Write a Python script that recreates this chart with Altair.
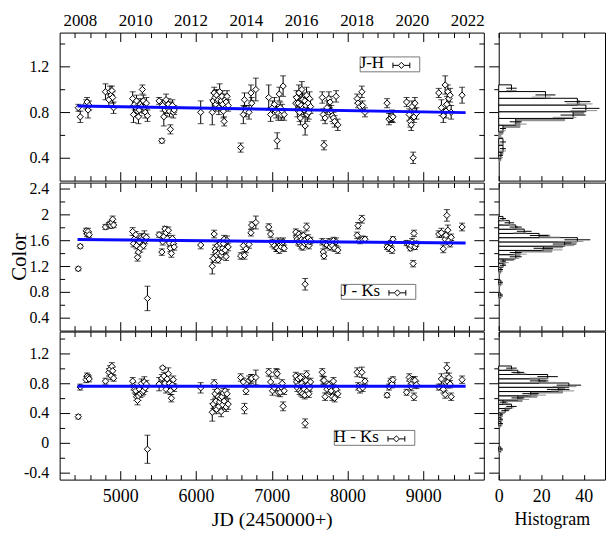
import altair as alt
import pandas as pd

FONT = "Liberation Serif"

# ---------------- observation epochs (JD - 2450000) ----------------
JD = [4446, 4472,
      4550, 4562, 4575, 4590,
      4805, 4850, 4865, 4878, 4890, 4900, 4912,
      5164, 5175, 5190, 5205, 5215, 5228, 5240, 5252, 5265, 5280, 5292, 5305, 5318, 5330, 5345, 5359,
      5513, 5549, 5560, 5575, 5590, 5605, 5620, 5635, 5650, 5662, 5675, 5688, 5700, 5712,
      6062,
      6215, 6228, 6240, 6252, 6262, 6272, 6282, 6292, 6302, 6312, 6322, 6332, 6342, 6352, 6362, 6372, 6385, 6398, 6410, 6425,
      6590, 6625, 6640, 6660, 6700, 6725, 6735, 6790,
      6960, 6985, 7010, 7035, 7060, 7072, 7085, 7100, 7112, 7125, 7138, 7150, 7164,
      7318, 7328, 7338, 7348, 7358, 7368, 7378, 7388, 7398, 7408, 7418, 7428, 7436, 7441, 7450, 7460, 7470, 7480, 7490, 7500, 7512,
      7667, 7680, 7690, 7705, 7730, 7755, 7770, 7785, 7800, 7815, 7830, 7850, 7872,
      8128, 8140, 8165, 8190, 8200, 8231,
      8523, 8548, 8572, 8588, 8600,
      8780, 8815, 8830, 8842, 8852, 8867, 8878, 8890, 8910,
      9205, 9240, 9265, 9290, 9300, 9312, 9325, 9340, 9355, 9369,
      9513]

JH = [0.84, 0.76,
      0.87, 0.89, 0.82, 0.86,
      0.98, 0.91, 0.98, 0.95, 0.99, 0.93, 0.84,
      0.92, 0.78, 0.87, 0.84, 0.90, 0.81, 0.76, 0.82, 0.87, 0.85, 1.00, 0.90, 0.84, 0.80, 0.88, 0.77,
      0.90, 0.55, 0.86, 0.76, 0.82, 0.91, 0.84, 0.87, 0.81, 0.65, 0.84, 0.86, 0.80, 0.82,
      0.80,
      0.80, 0.90, 0.97, 0.93, 0.87, 0.95, 0.90, 0.91, 0.84, 0.98, 0.93, 0.90, 0.94, 0.87, 0.81, 0.72, 0.91, 0.89, 0.94, 0.86,
      0.49, 0.78, 0.91, 0.81, 0.80, 0.97, 0.88, 1.00,
      0.93, 0.78, 0.84, 0.87, 0.81, 0.55, 0.79, 0.96, 0.84, 0.78, 0.81, 1.03, 0.78,
      0.88, 0.93, 0.82, 0.88, 0.97, 0.80, 0.75, 0.86, 1.00, 0.91, 0.84, 0.82, 0.90, 0.68, 0.86, 0.95, 0.78, 0.88, 0.80, 0.92, 0.85,
      0.93, 0.78, 0.51, 0.75, 0.84, 0.92, 0.89, 0.81, 0.77, 0.75, 0.72, 0.94, 0.69,
      0.92, 0.88, 0.85, 0.98, 0.86, 0.80,
      0.88, 0.74, 0.75, 0.77, 0.76,
      0.89, 0.78, 0.72, 0.69, 0.85, 0.40, 0.76, 0.88, 0.79,
      0.97, 0.84, 0.77, 1.04, 0.81, 0.87, 0.98, 0.92, 0.95, 0.80,
      0.95]
JH_ERR = [0.03, 0.05,
          0.04, 0.04, 0.07, 0.04,
          0.07, 0.05, 0.05, 0.04, 0.04, 0.05, 0.05,
          0.06, 0.07, 0.05, 0.05, 0.05, 0.05, 0.06, 0.05, 0.05, 0.05, 0.04, 0.05, 0.05, 0.05, 0.05, 0.05,
          0.03, 0.02, 0.05, 0.08, 0.05, 0.05, 0.05, 0.05, 0.05, 0.04, 0.05, 0.05, 0.05, 0.04,
          0.10,
          0.11, 0.07, 0.05, 0.06, 0.06, 0.05, 0.06, 0.05, 0.06, 0.07, 0.05, 0.06, 0.05, 0.06, 0.06, 0.04, 0.05, 0.06, 0.05, 0.05,
          0.04, 0.08, 0.06, 0.05, 0.06, 0.07, 0.05, 0.10,
          0.11, 0.06, 0.06, 0.06, 0.06, 0.07, 0.06, 0.06, 0.05, 0.05, 0.06, 0.09, 0.05,
          0.06, 0.06, 0.06, 0.06, 0.07, 0.08, 0.06, 0.06, 0.07, 0.06, 0.06, 0.06, 0.06, 0.08, 0.06, 0.07, 0.06, 0.06, 0.06, 0.06, 0.06,
          0.05, 0.05, 0.04, 0.05, 0.06, 0.06, 0.05, 0.05, 0.05, 0.05, 0.05, 0.05, 0.05,
          0.04, 0.04, 0.04, 0.05, 0.04, 0.04,
          0.04, 0.05, 0.04, 0.05, 0.05,
          0.04, 0.05, 0.05, 0.05, 0.05, 0.05, 0.05, 0.05, 0.05,
          0.04, 0.07, 0.06, 0.08, 0.06, 0.07, 0.06, 0.06, 0.06, 0.06,
          0.07]

JK = [1.16, 1.51,
      1.75, 1.70, 1.74, 1.69,
      1.81, 1.84, 1.86, 1.83, 1.88, 1.93, 1.84,
      1.74, 1.55, 1.63, 1.69, 1.52, 1.34, 1.42, 1.58, 1.48, 1.65, 1.62, 1.52, 1.67, 1.60, 1.65, 0.70,
      1.69, 1.42, 1.58, 1.66, 1.78, 1.72, 1.63, 1.76, 1.56, 1.48, 1.40, 1.63, 1.55, 1.50,
      1.53,
      1.20, 1.32, 1.70, 1.47, 1.42, 1.37, 1.52, 1.30, 1.40, 1.48, 1.55, 1.37, 1.42, 1.48, 1.55, 1.62, 1.45, 1.35, 1.60, 1.50,
      1.36, 1.52, 1.37, 1.47, 1.54, 1.72, 1.84, 1.88,
      1.81, 1.70, 1.56, 1.52, 1.48, 1.48, 1.58, 1.45, 1.53, 1.50, 1.56, 1.58, 1.48,
      1.73, 1.65, 1.62, 1.58, 1.70, 1.56, 1.66, 1.52, 1.62, 1.50, 1.68, 1.60, 1.55, 0.92, 1.62, 1.81, 1.56, 1.64, 1.52, 1.58, 1.60,
      1.58, 1.42, 1.36, 1.55, 1.53, 1.58, 1.50, 1.55, 1.52, 1.60, 1.48, 1.58, 1.45,
      1.68, 1.83, 1.60, 1.93, 1.62, 1.62,
      1.50, 1.48, 1.56, 1.45, 1.62,
      1.56, 1.53, 1.48, 1.52, 1.58, 1.24, 1.71, 1.50, 1.55,
      1.70, 1.72, 1.47, 1.62, 1.68, 1.99, 1.76, 1.60, 1.55, 1.65,
      1.81]
JK_ERR = [0.03, 0.03,
          0.04, 0.04, 0.05, 0.04,
          0.04, 0.04, 0.04, 0.04, 0.04, 0.05, 0.04,
          0.06, 0.05, 0.05, 0.05, 0.05, 0.06, 0.06, 0.05, 0.06, 0.06, 0.05, 0.05, 0.08, 0.05, 0.05, 0.19,
          0.04, 0.05, 0.05, 0.05, 0.04, 0.05, 0.05, 0.05, 0.05, 0.05, 0.06, 0.05, 0.05, 0.05,
          0.06,
          0.12, 0.06, 0.06, 0.06, 0.06, 0.06, 0.06, 0.05, 0.06, 0.06, 0.06, 0.06, 0.06, 0.06, 0.06, 0.06, 0.06, 0.06, 0.07, 0.06,
          0.05, 0.06, 0.06, 0.06, 0.06, 0.05, 0.05, 0.10,
          0.05, 0.05, 0.06, 0.05, 0.05, 0.05, 0.06, 0.05, 0.05, 0.05, 0.06, 0.06, 0.05,
          0.05, 0.05, 0.05, 0.05, 0.05, 0.05, 0.05, 0.05, 0.05, 0.05, 0.05, 0.05, 0.05, 0.09, 0.05, 0.06, 0.05, 0.05, 0.05, 0.05, 0.05,
          0.05, 0.05, 0.05, 0.05, 0.05, 0.05, 0.05, 0.05, 0.05, 0.05, 0.05, 0.06, 0.05,
          0.05, 0.05, 0.05, 0.06, 0.05, 0.04,
          0.04, 0.05, 0.04, 0.05, 0.04,
          0.04, 0.04, 0.04, 0.04, 0.05, 0.05, 0.05, 0.04, 0.04,
          0.05, 0.07, 0.06, 0.05, 0.06, 0.09, 0.08, 0.06, 0.05, 0.05,
          0.06]

HK = [0.35, 0.75,
      0.85, 0.90, 0.88, 0.86,
      0.83, 0.95, 0.99, 0.90, 1.03, 0.97, 0.87,
      0.83, 0.76, 0.72, 0.70, 0.62, 0.57, 0.63, 0.72, 0.66, 0.80, 0.68, 0.70, 0.82, 0.74, 0.79, -0.09,
      0.79, 0.87, 1.01, 0.90, 0.80, 0.72, 0.86, 0.93, 0.80, 0.70, 0.60, 0.78, 0.85, 0.74,
      0.74,
      0.41, 0.52, 0.80, 0.66, 0.56, 0.45, 0.70, 0.62, 0.49, 0.55, 0.60, 0.42, 0.62, 0.51, 0.67, 0.56, 0.70, 0.48, 0.66, 0.52,
      0.88, 0.82, 0.46, 0.70, 0.84, 0.86, 0.87, 0.88,
      0.95, 0.82, 0.70, 0.74, 0.95, 0.93, 0.68, 0.72, 0.68, 0.75, 0.80, 0.49, 0.70,
      0.90, 0.82, 0.74, 0.86, 0.78, 0.70, 0.88, 0.68, 0.80, 0.66, 0.76, 0.72, 0.64, 0.26, 0.84, 0.92, 0.70, 0.78, 0.66, 0.74, 0.82,
      0.95, 0.84, 0.84, 0.62, 0.72, 0.78, 0.74, 0.70, 0.62, 0.83, 0.60, 0.72, 0.66,
      0.95, 0.76, 0.72, 0.95, 0.74, 0.83,
      0.64, 0.75, 0.83, 0.79, 0.85,
      0.68, 0.88, 0.84, 0.75, 0.80, 0.84, 0.62, 0.84, 0.78,
      0.75, 0.86, 0.72, 0.65, 0.81, 1.01, 0.82, 0.88, 0.79, 0.62,
      0.85]
HK_ERR = [0.03, 0.04,
          0.04, 0.04, 0.04, 0.04,
          0.04, 0.05, 0.05, 0.05, 0.05, 0.05, 0.04,
          0.05, 0.05, 0.05, 0.05, 0.05, 0.06, 0.06, 0.05, 0.05, 0.06, 0.05, 0.05, 0.07, 0.05, 0.05, 0.19,
          0.09, 0.05, 0.02, 0.05, 0.05, 0.05, 0.05, 0.08, 0.05, 0.05, 0.05, 0.05, 0.05, 0.05,
          0.07,
          0.12, 0.06, 0.05, 0.06, 0.06, 0.06, 0.06, 0.05, 0.06, 0.06, 0.06, 0.07, 0.06, 0.06, 0.06, 0.06, 0.06, 0.06, 0.06, 0.07,
          0.05, 0.05, 0.07, 0.05, 0.06, 0.06, 0.05, 0.10,
          0.05, 0.07, 0.06, 0.05, 0.05, 0.06, 0.05, 0.05, 0.06, 0.05, 0.05, 0.06, 0.05,
          0.05, 0.05, 0.05, 0.05, 0.05, 0.05, 0.05, 0.05, 0.05, 0.05, 0.05, 0.05, 0.05, 0.06, 0.05, 0.05, 0.05, 0.05, 0.05, 0.05, 0.05,
          0.05, 0.05, 0.05, 0.05, 0.05, 0.05, 0.05, 0.05, 0.05, 0.05, 0.05, 0.05, 0.05,
          0.06, 0.05, 0.05, 0.07, 0.05, 0.04,
          0.03, 0.04, 0.04, 0.05, 0.04,
          0.04, 0.05, 0.05, 0.05, 0.05, 0.05, 0.05, 0.05, 0.05,
          0.04, 0.07, 0.05, 0.05, 0.06, 0.07, 0.08, 0.06, 0.05, 0.05,
          0.05]

for arr in (JH, JH_ERR, JK, JK_ERR, HK, HK_ERR):
    assert len(arr) == len(JD), len(arr)

# linear fits (end points)
FIT_JD = [4436, 9560]
FIT_JH = [0.855, 0.797]
FIT_JK = [1.615, 1.560]
FIT_HK = [0.760, 0.760]

# axes
X_DOMAIN = [4200, 9800]
X_TICKS = [4400, 4600, 4800, 5000, 5200, 5400, 5600, 5800, 6000, 6200, 6400, 6600, 6800,
           7000, 7200, 7400, 7600, 7800, 8000, 8200, 8400, 8600, 8800, 9000, 9200, 9400, 9600]
YEARS = ["2008", "2010", "2012", "2014", "2016", "2018", "2020", "2022"]
YEAR_JD = [4466.5, 5197.5, 5927.5, 6658.5, 7388.5, 8119.5, 8849.5, 9580.5]

Y1_DOMAIN = [0.2, 1.5]
Y1_TICKS = [0.4, 0.6, 0.8, 1.0, 1.2, 1.4]
Y2_DOMAIN = [0.2, 2.5]
Y2_TICKS = [0.4, 0.6, 0.8, 1.0, 1.2, 1.4, 1.6, 1.8, 2.0, 2.2, 2.4]
Y3_DOMAIN = [-0.5, 1.5]
Y3_TICKS = [-0.4, -0.2, 0.0, 0.2, 0.4, 0.6, 0.8, 1.0, 1.2, 1.4]

H_DOMAIN = [0, 50]
H_TICKS = [0, 10, 20, 30, 40]

# histograms (bin edges, counts)
H1_EDGES = [0.392, 0.451, 0.510, 0.569, 0.628, 0.687, 0.746, 0.805, 0.864, 0.923, 0.982, 1.041]
H1_COUNTS = [1, 2, 2, 0, 2, 8, 35, 41, 37, 22, 6]
G1_EDGES = [0.372, 0.431, 0.490, 0.549, 0.608, 0.667, 0.726, 0.785, 0.844, 0.903, 0.962, 1.021]
G1_COUNTS = [1, 2, 1, 1, 2, 10, 31, 40, 38, 20, 6]

H2_EDGES = [0.720, 0.786, 0.852, 0.918, 0.984, 1.050, 1.116, 1.182, 1.248, 1.314, 1.380,
            1.446, 1.512, 1.578, 1.644, 1.710, 1.776, 1.842, 1.908, 1.974]
H2_COUNTS = [1, 0, 0, 1, 0, 0, 1, 2, 2, 8, 8, 21, 31, 37, 19, 12, 8, 5, 2]
G2_EDGES = [0.695, 0.761, 0.827, 0.893, 0.959, 1.025, 1.091, 1.157, 1.223, 1.289, 1.355,
            1.421, 1.487, 1.553, 1.619, 1.685, 1.751, 1.817, 1.883, 1.949]
G2_COUNTS = [1, 0, 0, 1, 0, 0, 1, 1, 3, 7, 10, 25, 30, 34, 24, 10, 9, 4, 2]

H3_EDGES = [-0.115, -0.0575, 0.0, 0.0575, 0.115, 0.1725, 0.23, 0.2875, 0.345, 0.4025, 0.46,
            0.5175, 0.575, 0.6325, 0.69, 0.7475, 0.805, 0.8625, 0.92, 0.9775, 1.035]
H3_COUNTS = [1, 0, 0, 0, 0, 0, 1, 1, 1, 3, 6, 2, 9, 15, 28, 33, 19, 23, 9, 6]
G3_EDGES = [-0.135, -0.0775, -0.02, 0.0375, 0.095, 0.1525, 0.21, 0.2675, 0.325, 0.3825, 0.44,
            0.4975, 0.555, 0.6125, 0.67, 0.7275, 0.785, 0.8425, 0.9, 0.9575, 1.015]
G3_COUNTS = [1, 0, 0, 0, 0, 0, 1, 1, 1, 2, 5, 4, 11, 18, 30, 31, 22, 19, 10, 5]

LABELS = ["J-H", "J - Ks", "H - Ks"]

# ---------------- styling helpers ----------------
GRAY = "#8a8a8a"
BLUE = "#0a0aff"
TOP_EXT = 22
MAIN_W, MAIN_H = 427, 149
HIST_W = 107
LEGEND_SYMBOL = ("M-1,-0.33L-1,0.33M-1,0L-0.36,0M0.36,0L1,0M1,-0.33L1,0.33"
                 "M0,-0.36L0.36,0L0,0.36L-0.36,0Z")

YMAJ = "round(datum.value * 10) % 4 === 0"
XMAJ = "round(datum.value) % 1000 === 0"
YEAR_TEST = "datum.value % 1 !== 0"
YEAR_EXPR = ("[" + ",".join("'%s'" % y for y in YEARS) + "][indexof(["
             + ",".join(str(v) for v in YEAR_JD) + "], datum.value)]")


def cond(test, a, b):
    return {"condition": {"test": test, "value": a}, "value": b}


BASE_AX = dict(tickColor="black", domain=False, grid=False, labelOverlap=False,
               labelFlush=False, tickWidth=1)


def main_panel(row, vals, errs, fit, ydom, yticks, label, lx, ly):
    df = pd.DataFrame({"jd": JD, "v": vals, "e": errs})
    df["lo"] = df["v"] - df["e"]
    df["hi"] = df["v"] + df["e"]
    df["series"] = label
    fdf = pd.DataFrame({"jd": FIT_JD, "v": fit})
    xs = alt.Scale(domain=X_DOMAIN, nice=False, zero=False)
    ys = alt.Scale(domain=ydom, nice=False, zero=False)

    bottom = dict(BASE_AX, orient="bottom", values=X_TICKS, tickSize=cond(XMAJ, -9, -5))
    if row == 3:
        bottom.update(labels=True, labelExpr=XMAJ + " ? toString(datum.value) : ''",
                      labelFontSize=18, labelPadding=17, title="JD (2450000+)",
                      titleFontSize=20, titlePadding=0)
    else:
        bottom.update(labels=False, title=None, minExtent=0, maxExtent=0)

    top = dict(BASE_AX, orient="top", title=None)
    if row == 1:
        top.update(values=X_TICKS + YEAR_JD, tickSize=cond(XMAJ, -9, -5),
                   tickOpacity=cond(YEAR_TEST, 0, 1), labels=True,
                   labelExpr=YEAR_TEST + " ? " + YEAR_EXPR + " : ''",
                   labelFontSize=17, labelPadding=8, minExtent=TOP_EXT, maxExtent=TOP_EXT)
    else:
        top.update(values=X_TICKS, tickSize=cond(XMAJ, -9, -5), labels=False,
                   minExtent=0, maxExtent=0)

    left = dict(BASE_AX, orient="left", values=yticks, tickSize=cond(YMAJ, -10, -5),
                labelExpr=YMAJ + " ? toString(datum.value) : ''", labelFontSize=16,
                labelPadding=21, minExtent=30, maxExtent=30, title="Color",
                titleFontSize=21, titlePadding=0, titleOpacity=1 if row == 2 else 0)
    right = dict(BASE_AX, orient="right", values=yticks, tickSize=cond(YMAJ, -10, -5),
                 labels=False, title=None, minExtent=0, maxExtent=0)

    legend = alt.Legend(title=label, titleOrient="left", orient="none", legendX=lx, legendY=ly,
                        labelExpr="''", labelOffset=9, symbolType=LEGEND_SYMBOL, symbolSize=289,
                        symbolStrokeWidth=1, symbolFillColor="white", symbolStrokeColor="black",
                        strokeColor="#777777", fillColor="white", padding=0,
                        titleFontSize=17, titleFontWeight="normal", titleColor="black",
                        titlePadding=8)

    base = alt.Chart(df)
    err = base.mark_rule(color="black", strokeWidth=1).encode(
        x=alt.X("jd:Q", scale=xs, axis=alt.Axis(**bottom)),
        y=alt.Y("lo:Q", scale=ys, axis=alt.Axis(**left)),
        y2="hi:Q")
    cap_lo = base.mark_tick(orient="horizontal", size=6, thickness=1, color="black").encode(
        x=alt.X("jd:Q", scale=xs, axis=None), y=alt.Y("lo:Q", scale=ys, axis=None))
    cap_hi = base.mark_tick(orient="horizontal", size=6, thickness=1, color="black").encode(
        x=alt.X("jd:Q", scale=xs, axis=None), y=alt.Y("hi:Q", scale=ys, axis=None))
    pts = base.mark_point(shape="diamond", size=40, filled=True, fill="white",
                          strokeWidth=1, opacity=1).encode(
        x=alt.X("jd:Q", scale=xs, axis=None),
        y=alt.Y("v:Q", scale=ys, axis=None),
        stroke=alt.Stroke("series:N", scale=alt.Scale(domain=[label], range=["black"]),
                          legend=legend))
    line = alt.Chart(fdf).mark_line(color=BLUE, strokeWidth=3).encode(
        x=alt.X("jd:Q", scale=xs, axis=alt.Axis(**top)),
        y=alt.Y("v:Q", scale=ys, axis=alt.Axis(**right)))
    return alt.layer(err, cap_lo, cap_hi, pts, line).resolve_axis(
        x="independent", y="independent").properties(width=MAIN_W, height=MAIN_H)


def hist_panel(row, edges, counts, gedges, gcounts, ydom, yticks):
    df = pd.DataFrame({"lo": edges[:-1], "hi": edges[1:], "n": counts})
    df = df[df["n"] > 0]
    gdf = pd.DataFrame({"lo": gedges[:-1], "hi": gedges[1:], "n": gcounts})
    gdf = gdf[gdf["n"] > 0]
    xs = alt.Scale(domain=H_DOMAIN, nice=False, zero=False)
    ys = alt.Scale(domain=ydom, nice=False, zero=False)

    bottom = dict(BASE_AX, orient="bottom", values=H_TICKS, tickSize={"expr": "-5"})
    if row == 3:
        bottom.update(labels=True, labelExpr="datum.value % 20 === 0 ? toString(datum.value) : ''",
                      labelFontSize=18, labelPadding=13, title="Histogram",
                      titleFontSize=18, titlePadding=5)
    else:
        bottom.update(labels=False, title=None, minExtent=0, maxExtent=0)
    top = dict(BASE_AX, orient="top", values=H_TICKS, tickSize={"expr": "-5"}, labels=False,
               title=None, minExtent=TOP_EXT if row == 1 else 0,
               maxExtent=TOP_EXT if row == 1 else 0)
    left = dict(BASE_AX, orient="left", values=yticks, tickSize=cond(YMAJ, 10, 5),
                labels=False, title=None, minExtent=10, maxExtent=10)

    calc = dict(mid="(datum.lo + datum.hi) / 2", e0="datum.n - sqrt(datum.n)",
                e1="datum.n + sqrt(datum.n)")
    gbar = alt.Chart(gdf).mark_rect(fill=GRAY, stroke=GRAY, strokeWidth=1).encode(
        x=alt.X("n:Q", scale=xs, axis=None), x2=alt.datum(0),
        y=alt.Y("lo:Q", scale=ys, axis=None), y2="hi:Q")
    bar = alt.Chart(df).mark_rect(fill="white", stroke="black", strokeWidth=1).encode(
        x=alt.X("n:Q", scale=xs, axis=alt.Axis(**bottom)), x2=alt.datum(0),
        y=alt.Y("lo:Q", scale=ys, axis=alt.Axis(**left)), y2="hi:Q")
    gerr = alt.Chart(gdf).transform_calculate(**calc).mark_rule(color=GRAY, strokeWidth=1).encode(
        x=alt.X("e0:Q", scale=xs, axis=None), x2="e1:Q",
        y=alt.Y("mid:Q", scale=ys, axis=None))
    berr = alt.Chart(df).transform_calculate(**calc).mark_rule(color="black", strokeWidth=1).encode(
        x=alt.X("e0:Q", scale=xs, axis=alt.Axis(**top)), x2="e1:Q",
        y=alt.Y("mid:Q", scale=ys, axis=None))
    return alt.layer(gbar, bar, gerr, berr).resolve_axis(
        x="independent", y="independent").properties(width=HIST_W, height=MAIN_H)


rows = []
specs = [
    (1, JH, JH_ERR, FIT_JH, Y1_DOMAIN, Y1_TICKS, H1_EDGES, H1_COUNTS, G1_EDGES, G1_COUNTS, 302, 24),
    (2, JK, JK_ERR, FIT_JK, Y2_DOMAIN, Y2_TICKS, H2_EDGES, H2_COUNTS, G2_EDGES, G2_COUNTS, 283, 102),
    (3, HK, HK_ERR, FIT_HK, Y3_DOMAIN, Y3_TICKS, H3_EDGES, H3_COUNTS, G3_EDGES, G3_COUNTS, 276, 99),
]
for (row, vals, errs, fit, ydom, yticks, he, hc, ge, gc, lx, ly) in specs:
    m = main_panel(row, vals, errs, fit, ydom, yticks, LABELS[row - 1], lx, ly)
    h = hist_panel(row, he, hc, ge, gc, ydom, yticks)
    rows.append(alt.hconcat(m, h, spacing=3))

chart = alt.vconcat(*rows, spacing=-2).resolve_scale(stroke="independent").resolve_legend(
    stroke="independent"
).properties(
    padding={"left": 0, "top": 0, "right": 0, "bottom": 0}, background="white"
).configure(font=FONT).configure_view(stroke="black", strokeWidth=1).configure_axis(
    labelFont=FONT, titleFont=FONT, labelColor="black", titleColor="black",
    titleFontWeight="normal", tickColor="black"
).configure_legend(titleFont=FONT, labelFont=FONT)

chart.save("out.html", embed_options={"renderer": "svg", "actions": False})
